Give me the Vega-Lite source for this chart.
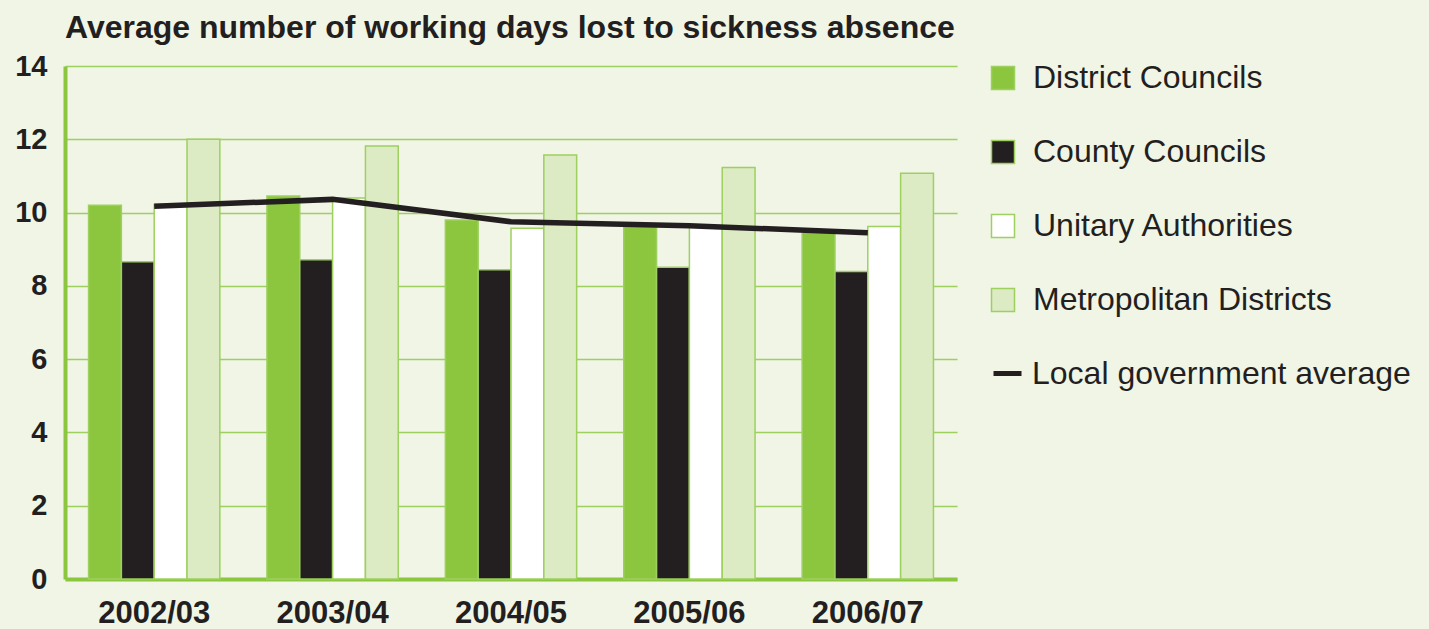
{
  "$schema": "https://vega.github.io/schema/vega-lite/v6.json",
  "autosize": {"type": "none"},
  "width": 892,
  "height": 513,
  "padding": {"left": 65, "top": 66, "right": 472, "bottom": 50},
  "background": "#f1f5e6",
  "config": {
    "view": {"stroke": null},
    "font": "Liberation Sans"
  },
  "title": {
    "text": "Average number of working days lost to sickness absence",
    "anchor": "start",
    "frame": "group",
    "fontSize": 32,
    "fontWeight": "bold",
    "color": "#231f20",
    "font": "Liberation Sans",
    "baseline": "alphabetic",
    "offset": -18
  },
  "datasets": {
    "bars": [
      {"year": "2002/03", "series": "District Councils", "value": 10.2},
      {"year": "2002/03", "series": "County Councils", "value": 8.66},
      {"year": "2002/03", "series": "Unitary Authorities", "value": 10.22},
      {"year": "2002/03", "series": "Metropolitan Districts", "value": 12.0},
      {"year": "2003/04", "series": "District Councils", "value": 10.45},
      {"year": "2003/04", "series": "County Councils", "value": 8.71},
      {"year": "2003/04", "series": "Unitary Authorities", "value": 10.4},
      {"year": "2003/04", "series": "Metropolitan Districts", "value": 11.82},
      {"year": "2004/05", "series": "District Councils", "value": 9.8},
      {"year": "2004/05", "series": "County Councils", "value": 8.44},
      {"year": "2004/05", "series": "Unitary Authorities", "value": 9.57},
      {"year": "2004/05", "series": "Metropolitan Districts", "value": 11.57},
      {"year": "2005/06", "series": "District Councils", "value": 9.65},
      {"year": "2005/06", "series": "County Councils", "value": 8.51},
      {"year": "2005/06", "series": "Unitary Authorities", "value": 9.64},
      {"year": "2005/06", "series": "Metropolitan Districts", "value": 11.23},
      {"year": "2006/07", "series": "District Councils", "value": 9.47},
      {"year": "2006/07", "series": "County Councils", "value": 8.39},
      {"year": "2006/07", "series": "Unitary Authorities", "value": 9.62},
      {"year": "2006/07", "series": "Metropolitan Districts", "value": 11.07}
    ],
    "avg": [
      {"year": "2002/03", "value": 10.17},
      {"year": "2003/04", "value": 10.36},
      {"year": "2004/05", "value": 9.75},
      {"year": "2005/06", "value": 9.64},
      {"year": "2006/07", "value": 9.45}
    ]
  },
  "layer": [
    {
      "data": {"name": "bars"},
      "mark": {"type": "bar", "stroke": "#9dd05f", "strokeWidth": 1.5},
      "encoding": {
        "x": {
          "field": "year",
          "type": "nominal",
          "scale": {"paddingInner": 0.264, "paddingOuter": 0.132},
          "axis": {
            "title": null,
            "labelAngle": 0,
            "domain": true,
            "domainColor": "#8cc63f",
            "domainWidth": 4,
            "ticks": false,
            "labelFont": "Liberation Sans",
            "labelFontSize": 31,
            "labelFontWeight": "bold",
            "labelColor": "#231f20",
            "labelPadding": 19,
            "labelDx": 4
          }
        },
        "xOffset": {
          "field": "series",
          "type": "nominal",
          "sort": ["District Councils", "County Councils", "Unitary Authorities", "Metropolitan Districts"],
          "scale": {"paddingInner": 0, "paddingOuter": 0}
        },
        "y": {
          "field": "value",
          "type": "quantitative",
          "scale": {"domain": [0, 14], "nice": false},
          "axis": {
            "title": null,
            "values": [0, 2, 4, 6, 8, 10, 12, 14],
            "grid": true,
            "gridColor": "#9dd05f",
            "gridWidth": 1.5,
            "domain": true,
            "domainColor": "#8cc63f",
            "domainWidth": 4,
            "ticks": false,
            "labelFont": "Liberation Sans",
            "labelFontSize": 29,
            "labelFontWeight": "bold",
            "labelColor": "#231f20",
            "labelPadding": 18
          }
        },
        "fill": {
          "field": "series",
          "type": "nominal",
          "sort": ["District Councils", "County Councils", "Unitary Authorities", "Metropolitan Districts"],
          "scale": {
            "domain": ["District Councils", "County Councils", "Unitary Authorities", "Metropolitan Districts"],
            "range": ["#8cc63f", "#231f20", "#ffffff", "#dcebc4"]
          },
          "legend": {
            "title": null,
            "orient": "none",
            "legendX": 922,
            "legendY": -4,
            "padding": 0,
            "symbolType": "square",
            "symbolSize": 529,
            "symbolStrokeWidth": 1.5,
            "symbolStrokeColor": "#9dd05f",
            "symbolOpacity": 1,
            "labelFont": "Liberation Sans",
            "labelFontSize": 32,
            "labelColor": "#231f20",
            "labelOffset": 14,
            "labelLimit": 500,
            "rowPadding": 42
          }
        }
      }
    },
    {
      "data": {"name": "avg"},
      "mark": {"type": "line", "strokeWidth": 5.5},
      "encoding": {
        "x": {"field": "year", "type": "nominal"},
        "y": {"field": "value", "type": "quantitative"},
        "stroke": {
          "datum": "Local government average",
          "scale": {"domain": ["Local government average"], "range": ["#231f20"]},
          "legend": {
            "title": null,
            "orient": "none",
            "legendX": 926,
            "legendY": 291,
            "padding": 0,
            "symbolType": "stroke",
            "symbolSize": 784,
            "symbolStrokeWidth": 5,
            "symbolOpacity": 1,
            "labelFont": "Liberation Sans",
            "labelFontSize": 32,
            "labelColor": "#231f20",
            "labelOffset": 8,
            "labelLimit": 500
          }
        }
      }
    }
  ]
}
